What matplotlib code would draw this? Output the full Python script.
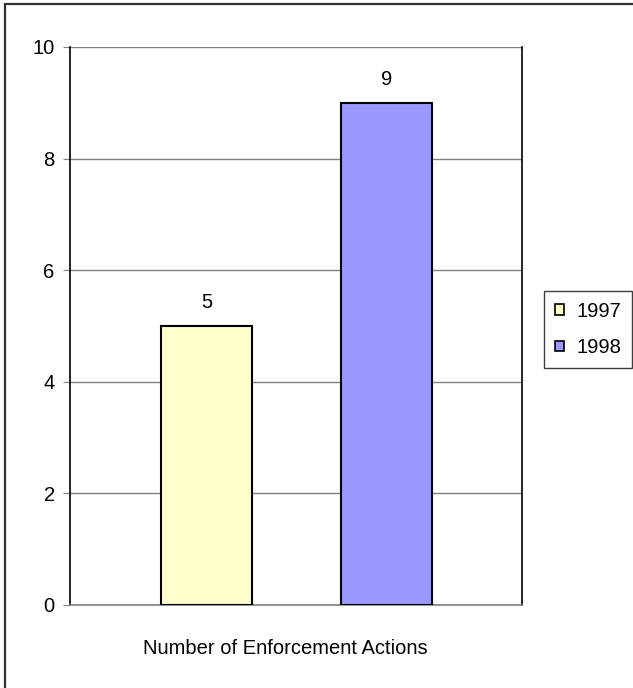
import matplotlib.pyplot as plt
from matplotlib.patches import Rectangle

years = ["1997", "1998"]
actions = [5, 9]
colors = ["#FFFFCC", "#9999FF"]
yticks = [0, 2, 4, 6, 8, 10]

plt.rcParams["font.family"] = ["Liberation Sans", "DejaVu Sans"]

fig = plt.figure(figsize=(6.33, 6.88), dpi=100)
ax = fig.add_axes([70 / 633, 1 - 605 / 688, 452 / 633, 558 / 688])

for i, (year, value, color) in enumerate(zip(years, actions, colors)):
    ax.bar(
        i,
        value,
        width=0.504,
        color=color,
        edgecolor="black",
        linewidth=1.5,
        label=year,
        zorder=3,
    )
    ax.text(
        i,
        value + 0.25,
        str(value),
        ha="center",
        va="bottom",
        fontsize=14.5,
    )

ax.set_xlim(-0.756, 1.748)
ax.set_ylim(0, 10)
ax.set_yticks(yticks)
ax.set_xticks([])
ax.tick_params(axis="y", direction="out", length=5, color="#808080",
               labelsize=14.5, pad=6)

ax.yaxis.grid(True, color="#808080", linewidth=1)
ax.set_axisbelow(True)

ax.spines["top"].set_visible(False)
ax.spines["left"].set_color("black")
ax.spines["left"].set_linewidth(1.2)
ax.spines["right"].set_color("black")
ax.spines["right"].set_linewidth(1.2)
ax.spines["bottom"].set_color("#808080")
ax.spines["bottom"].set_linewidth(1.2)

fig.text(285 / 633, 1 - 648 / 688, "Number of Enforcement Actions",
         ha="center", va="center", fontsize=14.5)

leg = fig.legend(
    loc="upper left",
    bbox_to_anchor=(544 / 633, 1 - 291 / 688),
    bbox_transform=fig.transFigure,
    fontsize=14.5,
    handlelength=0.45,
    handleheight=0.45,
    handletextpad=0.6,
    borderpad=0.55,
    labelspacing=0.85,
    borderaxespad=0,
    fancybox=False,
    framealpha=1,
)
leg.get_frame().set_edgecolor("#404040")
leg.get_frame().set_linewidth(1)
for h in leg.legend_handles:
    h.set_linewidth(1.2)

# outer chart border (right/bottom edges fall outside the image)
fig.patches.append(
    Rectangle(
        (5 / 633, -0.1),
        1.0,
        1.1 - 4 / 688,
        transform=fig.transFigure,
        fill=False,
        edgecolor="#333333",
        linewidth=1.6,
    )
)

fig.savefig("out.png", dpi=100)
